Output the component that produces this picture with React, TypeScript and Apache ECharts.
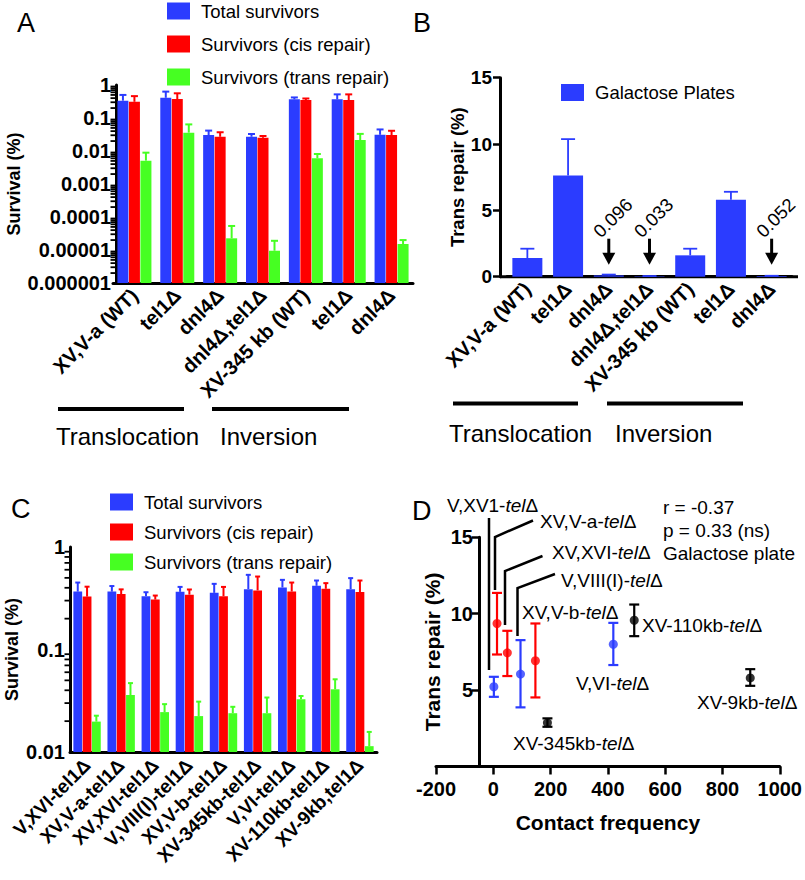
import React, { useEffect, useRef } from 'react';
import * as echarts from 'echarts';

const FONT = '"Liberation Sans", Arial, Helvetica, sans-serif';
const BLUE = '#2b3cff';
const RED = '#ff0000';
const GREEN = '#46ff22';
const BLACK = '#000000';

// ---------- Panel A ----------
const catsA = ['XV,V-a (WT)', 'tel1Δ', 'dnl4Δ', 'dnl4Δ,tel1Δ', 'XV-345 kb (WT)', 'tel1Δ', 'dnl4Δ'];
const totalA = [0.335, 0.41, 0.0305, 0.027, 0.368, 0.368, 0.031];
const totalAErr = [0.5, 0.63, 0.0415, 0.0327, 0.42, 0.52, 0.045];
const cisA = [0.31, 0.377, 0.027, 0.0254, 0.35, 0.35, 0.0305];
const cisAErr = [0.46, 0.56, 0.037, 0.0285, 0.39, 0.52, 0.041];
const transA = [0.0051, 0.036, 0.0000226, 0.0000095, 0.006, 0.0215, 0.0000152];
const transAErr = [0.0089, 0.064, 0.0000535, 0.000019, 0.0081, 0.033, 0.00002];

// ---------- Panel B ----------
const catsB = ['XV,V-a (WT)', 'tel1Δ', 'dnl4Δ', 'dnl4Δ,tel1Δ', 'XV-345 kb (WT)', 'tel1Δ', 'dnl4Δ'];
const transB = [1.41, 7.63, 0.096, 0.033, 1.61, 5.8, 0.052];
const transBErr = [2.11, 10.37, 0.16, 0.05, 2.11, 6.4, 0.07];
const annotB = [2, 3, 6];

// ---------- Panel C ----------
const catsC = ['V,XVI-tel1Δ', 'XV,V-a-tel1Δ', 'XV,XVI-tel1Δ', 'V,VIII(I)-tel1Δ', 'XV,V-b-tel1Δ', 'XV-345kb-tel1Δ', 'V,VI-tel1Δ', 'XV-110kb-tel1Δ', 'XV-9kb,tel1Δ'];
const totalC = [0.367, 0.367, 0.331, 0.365, 0.357, 0.388, 0.403, 0.418, 0.388];
const totalCErr = [0.45, 0.416, 0.362, 0.408, 0.437, 0.535, 0.478, 0.471, 0.497];
const cisC = [0.328, 0.348, 0.307, 0.343, 0.331, 0.377, 0.368, 0.391, 0.363];
const cisCErr = [0.41, 0.386, 0.336, 0.385, 0.408, 0.515, 0.45, 0.444, 0.471];
const transC = [0.0198, 0.0359, 0.0245, 0.0224, 0.0239, 0.0239, 0.0327, 0.0409, 0.0114];
const transCErr = [0.0226, 0.047, 0.0293, 0.031, 0.0276, 0.034, 0.0352, 0.0512, 0.0157];

// ---------- Panel D ----------
const dBlueX = [2, 95, 419];
const dBlueY = [5.22, 6.05, 8.0];
const dBlueLo = [4.56, 3.87, 6.64];
const dBlueHi = [5.87, 8.27, 9.4];
const dRedX = [13, 49, 147];
const dRedY = [9.36, 7.44, 6.92];
const dRedLo = [7.33, 5.92, 4.52];
const dRedHi = [11.36, 8.88, 9.36];
const dBlackX = [189, 492, 897];
const dBlackY = [2.86, 9.57, 5.8];
const dBlackLo = [2.6, 8.53, 5.28];
const dBlackHi = [3.15, 10.6, 6.37];

const legendNames = ['Total survivors', 'Survivors (cis repair)', 'Survivors (trans repair)'];
const minorMult = [2, 3, 4, 5, 6, 7, 8, 9];
const decadesA = [-6, -5, -4, -3, -2, -1];
const decadesC = [-2, -1];

const minorVals = (decs: number[]) => {
  const out: number[] = [];
  decs.forEach((d) => minorMult.forEach((m) => out.push(m * Math.pow(10, d))));
  return out;
};

const logFmt = (v: number) => (v >= 1 ? '1' : v.toFixed(Math.round(-Math.log10(v))));

function barErrSeries(name: string, color: string, xi: number, vals: number[], errs: number[], off: number, w: number, yMin: number, capW: number) {
  return {
    type: 'custom',
    name,
    xAxisIndex: xi,
    yAxisIndex: xi,
    itemStyle: { color },
    encode: { x: 0, y: [1, 2] },
    data: vals.map((v, i) => [i, v, errs[i]]),
    silent: true,
    renderItem: (params: any, api: any) => {
      const i = api.value(0);
      const v = api.value(1);
      const e = api.value(2);
      const top = api.coord([i, v]);
      const base = api.coord([i, yMin]);
      const et = api.coord([i, e]);
      const x = top[0] + off;
      return {
        type: 'group',
        children: [
          { type: 'rect', shape: { x: x - w / 2, y: top[1], width: w, height: base[1] - top[1] }, style: { fill: color } },
          { type: 'line', shape: { x1: x, y1: top[1], x2: x, y2: et[1] }, style: { stroke: color, lineWidth: 2 } },
          { type: 'line', shape: { x1: x - capW / 2, y1: et[1], x2: x + capW / 2, y2: et[1] }, style: { stroke: color, lineWidth: 2 } },
        ],
      };
    },
  };
}

function minorTickSeries(xi: number, vals: number[], shift: number) {
  return {
    type: 'custom',
    xAxisIndex: xi,
    yAxisIndex: xi,
    silent: true,
    encode: { x: 0, y: 1 },
    data: vals.map((v) => [0, v]),
    renderItem: (params: any, api: any) => {
      const y = api.coord([0, api.value(1)])[1];
      const x = params.coordSys.x + shift;
      return { type: 'line', shape: { x1: x - 5.5, y1: y, x2: x, y2: y }, style: { stroke: BLACK, lineWidth: 1.8 } };
    },
  };
}

function dErrSeries(color: string, xs: number[], lo: number[], hi: number[]) {
  return {
    type: 'custom',
    xAxisIndex: 3,
    yAxisIndex: 3,
    silent: true,
    encode: { x: 0, y: [1, 2] },
    data: xs.map((x, i) => [x, lo[i], hi[i]]),
    renderItem: (params: any, api: any) => {
      const pl = api.coord([api.value(0), api.value(1)]);
      const ph = api.coord([api.value(0), api.value(2)]);
      const s = { stroke: color, lineWidth: 2.2 };
      return {
        type: 'group',
        children: [
          { type: 'line', shape: { x1: pl[0], y1: pl[1], x2: ph[0], y2: ph[1] }, style: s },
          { type: 'line', shape: { x1: pl[0] - 5, y1: pl[1], x2: pl[0] + 5, y2: pl[1] }, style: s },
          { type: 'line', shape: { x1: ph[0] - 5, y1: ph[1], x2: ph[0] + 5, y2: ph[1] }, style: s },
        ],
      };
    },
  };
}

const axisLine = { show: true, onZero: false, lineStyle: { color: BLACK, width: 3 } };
const tickLabel = { color: BLACK, fontFamily: FONT, fontWeight: 'bold' as const, fontSize: 20 };

const legendBase = {
  orient: 'vertical' as const,
  itemWidth: 23,
  itemHeight: 17,
  icon: 'rect',
  selectedMode: false,
  padding: 0,
  textStyle: { fontFamily: FONT, fontSize: 18.5, color: BLACK, lineHeight: 17, padding: [0, 0, 0, 6] },
};

const richLabel = (pre: string, post = '') => ({
  text: `{n|${pre}}{i|tel}{n|Δ${post}}`,
  rich: {
    n: { fontSize: 19, fontFamily: FONT, fill: BLACK },
    i: { fontSize: 19, fontFamily: FONT, fontStyle: 'italic', fill: BLACK },
  },
});

const dLabels: [string, number, number][] = [
  ['V,XV1-', 447, 505],
  ['XV,V-a-', 540, 521],
  ['XV,XVI-', 552, 552],
  ['V,VIII(I)-', 561, 580],
  ['XV,V-b-', 522, 612],
  ['XV-110kb-', 642, 625],
  ['V,VI-', 576, 683],
  ['XV-9kb-', 697, 702],
  ['XV-345kb-', 513, 743],
];

const leaders: number[][][] = [
  [[489, 518], [489, 670]],
  [[495, 590], [495, 537], [533, 520.5]],
  [[505, 625], [505, 571], [542.5, 556]],
  [[517.5, 636], [517.5, 588], [555, 574]],
];

function buildOption(): any {
  const txt = (text: string, x: number, y: number, size: number, extra: any = {}) => ({
    type: 'text',
    x,
    y,
    silent: true,
    style: { text, fontSize: size, fontFamily: FONT, fill: BLACK, verticalAlign: 'middle', ...extra },
  });
  const bar = (x1: number, x2: number, y: number) => ({
    type: 'rect',
    silent: true,
    shape: { x: x1, y: y - 2, width: x2 - x1, height: 4 },
    style: { fill: BLACK },
  });

  const graphic: any[] = [
    txt('A', 17, 22.5, 27),
    txt('B', 413, 23, 27),
    txt('C', 11, 509, 27),
    txt('D', 412, 511, 27),
    bar(58, 184, 409),
    bar(212, 349, 409),
    txt('Translocation', 56, 436, 24),
    txt('Inversion', 220, 436, 24),
    bar(453, 578, 403.5),
    bar(607, 743, 403.5),
    txt('Translocation', 449, 433, 24),
    txt('Inversion', 615, 433, 24),
    { type: 'line', silent: true, shape: { x1: 500, y1: 276.7, x2: 798, y2: 276.7 }, style: { stroke: BLACK, lineWidth: 3 } },
    txt('r = -0.37', 663, 507, 19),
    txt('p = 0.33 (ns)', 663, 530, 19),
    txt('Galactose plate', 663, 553, 19),
  ];
  dLabels.forEach(([pre, x, y]) => {
    graphic.push({ type: 'text', x, y, silent: true, style: { ...richLabel(pre), verticalAlign: 'middle', fill: BLACK } });
  });
  leaders.forEach((pts) => {
    graphic.push({ type: 'polyline', silent: true, shape: { points: pts }, style: { stroke: BLACK, lineWidth: 2.5, fill: 'none' } });
  });

  return {
    animation: false,
    backgroundColor: '#ffffff',
    textStyle: { fontFamily: FONT },
    grid: [
      { left: 113, top: 85, width: 300, height: 198 },
      { left: 507, top: 77.7, width: 285, height: 199 },
      { left: 70, top: 547, width: 307, height: 205 },
      { left: 436, top: 537.3, width: 344, height: 229.2 },
    ],
    legend: [
      { ...legendBase, data: legendNames, left: 167, top: 1.5, itemGap: 14 },
      { ...legendBase, data: ['Galactose Plates'], left: 561, top: 83 },
      { ...legendBase, data: legendNames, left: 110, top: 492.5, itemGap: 11 },
    ],
    xAxis: [
      {
        gridIndex: 0, type: 'category', data: catsA,
        axisLine, axisTick: { alignWithLabel: true, length: 6, lineStyle: { color: BLACK, width: 2.5 } },
        axisLabel: { ...tickLabel, fontSize: 20, rotate: 45, interval: 0, margin: 9 },
      },
      {
        gridIndex: 1, type: 'category', data: catsB,
        axisLine, axisTick: { alignWithLabel: true, length: 7, lineStyle: { color: BLACK, width: 2.5 } },
        axisLabel: { ...tickLabel, fontSize: 20, rotate: 45, interval: 0, margin: 9 },
      },
      {
        gridIndex: 2, type: 'category', data: catsC,
        axisLine, axisTick: { alignWithLabel: true, length: 7, lineStyle: { color: BLACK, width: 2.5 } },
        axisLabel: { ...tickLabel, fontSize: 19, rotate: 45, interval: 0, margin: 10 },
      },
      {
        gridIndex: 3, type: 'value', min: -200, max: 1000, interval: 200,
        axisLine, splitLine: { show: false },
        axisTick: { length: 8, lineStyle: { color: BLACK, width: 2.5 } },
        axisLabel: { ...tickLabel, fontSize: 20, margin: 12, formatter: (v: number) => String(v) },
        name: 'Contact frequency', nameLocation: 'middle', nameGap: 45,
        nameTextStyle: { fontFamily: FONT, fontWeight: 'bold', fontSize: 21, color: BLACK },
      },
    ],
    yAxis: [
      {
        gridIndex: 0, type: 'log', logBase: 10, min: 0.000001, max: 1, splitNumber: 6, offset: -3,
        axisLine, splitLine: { show: false },
        axisTick: { length: 7, lineStyle: { color: BLACK, width: 2 } },
        axisLabel: { ...tickLabel, fontSize: 20, margin: 5, formatter: logFmt },
        name: 'Survival (%)', nameLocation: 'middle', nameGap: 93,
        nameTextStyle: { fontFamily: FONT, fontWeight: 'bold', fontSize: 18, color: BLACK },
      },
      {
        gridIndex: 1, type: 'value', min: 0, max: 15, interval: 5, offset: 7,
        axisLine, splitLine: { show: false },
        axisTick: { show: true, length: 7, lineStyle: { color: BLACK, width: 2.5 } },
        axisLabel: { ...tickLabel, fontSize: 19, margin: 8 },
        name: 'Trans repair (%)', nameLocation: 'middle', nameGap: 30,
        nameTextStyle: { fontFamily: FONT, fontWeight: 'bold', fontSize: 18.5, color: BLACK },
      },
      {
        gridIndex: 2, type: 'log', logBase: 10, min: 0.01, max: 1, splitNumber: 2,
        axisLine, splitLine: { show: false },
        axisTick: { length: 8, lineStyle: { color: BLACK, width: 2 } },
        axisLabel: { ...tickLabel, fontSize: 20, margin: 5, formatter: logFmt },
        name: 'Survival (%)', nameLocation: 'middle', nameGap: 49,
        nameTextStyle: { fontFamily: FONT, fontWeight: 'bold', fontSize: 18, color: BLACK },
      },
      {
        gridIndex: 3, type: 'value', min: 0, max: 15, interval: 5, offset: -43,
        axisLine, splitLine: { show: false },
        axisTick: { length: 7, lineStyle: { color: BLACK, width: 2.5 } },
        axisLabel: { ...tickLabel, fontSize: 20, margin: 6, showMinLabel: false },
        name: 'Trans repair (%)', nameLocation: 'middle', nameGap: 36,
        nameTextStyle: { fontFamily: FONT, fontWeight: 'bold', fontSize: 21, color: BLACK },
      },
    ],
    series: [
      // Panel A
      barErrSeries(legendNames[0], BLUE, 0, totalA, totalAErr, -11.5, 11, 0.000001, 7),
      barErrSeries(legendNames[1], RED, 0, cisA, cisAErr, 0, 11, 0.000001, 7),
      barErrSeries(legendNames[2], GREEN, 0, transA, transAErr, 11.5, 11, 0.000001, 7),
      minorTickSeries(0, minorVals(decadesA), 3),
      // Panel B
      {
        type: 'bar', name: 'Galactose Plates', xAxisIndex: 1, yAxisIndex: 1,
        data: transB, barWidth: 30, itemStyle: { color: BLUE }, silent: true,
      },
      {
        type: 'custom', xAxisIndex: 1, yAxisIndex: 1, silent: true,
        encode: { x: 0, y: [1, 2] },
        data: transB.map((v, i) => [i, v, transBErr[i]]),
        renderItem: (params: any, api: any) => {
          const t = api.coord([api.value(0), api.value(1)]);
          const e = api.coord([api.value(0), api.value(2)]);
          const s = { stroke: BLUE, lineWidth: 1.8 };
          return {
            type: 'group',
            children: [
              { type: 'line', shape: { x1: t[0], y1: t[1], x2: e[0], y2: e[1] }, style: s },
              { type: 'line', shape: { x1: e[0] - 7, y1: e[1], x2: e[0] + 7, y2: e[1] }, style: s },
            ],
          };
        },
      },
      {
        type: 'custom', xAxisIndex: 1, yAxisIndex: 1, silent: true,
        encode: { x: 0, y: 1 },
        data: annotB.map((i) => [i, transB[i]]),
        renderItem: (params: any, api: any) => {
          const v = api.value(1);
          const b = api.coord([api.value(0), 0]);
          const x = b[0];
          return {
            type: 'group',
            children: [
              { type: 'line', shape: { x1: x, y1: b[1] - 38, x2: x, y2: b[1] - 22 }, style: { stroke: BLACK, lineWidth: 3 } },
              { type: 'polygon', shape: { points: [[x - 6.5, b[1] - 24], [x + 6.5, b[1] - 24], [x, b[1] - 12]] }, style: { fill: BLACK } },
              {
                type: 'text', x: x + 4, y: b[1] - 59, rotation: Math.PI / 4,
                style: { text: String(v), fontSize: 18.5, fontFamily: FONT, fill: BLACK, align: 'center', verticalAlign: 'middle' },
              },
            ],
          };
        },
      },
      // Panel C
      barErrSeries(legendNames[0], BLUE, 2, totalC, totalCErr, -9.3, 8.8, 0.01, 5),
      barErrSeries(legendNames[1], RED, 2, cisC, cisCErr, 0, 8.8, 0.01, 5),
      barErrSeries(legendNames[2], GREEN, 2, transC, transCErr, 9.3, 8.8, 0.01, 5),
      minorTickSeries(2, minorVals(decadesC), 0),
      // Panel D
      dErrSeries(BLUE, dBlueX, dBlueLo, dBlueHi),
      dErrSeries(RED, dRedX, dRedLo, dRedHi),
      dErrSeries(BLACK, dBlackX, dBlackLo, dBlackHi),
      { type: 'scatter', xAxisIndex: 3, yAxisIndex: 3, symbolSize: 9, itemStyle: { color: BLUE }, silent: true, data: dBlueX.map((x, i) => [x, dBlueY[i]]) },
      { type: 'scatter', xAxisIndex: 3, yAxisIndex: 3, symbolSize: 9, itemStyle: { color: RED }, silent: true, data: dRedX.map((x, i) => [x, dRedY[i]]) },
      { type: 'scatter', xAxisIndex: 3, yAxisIndex: 3, symbolSize: 9, itemStyle: { color: BLACK }, silent: true, data: dBlackX.map((x, i) => [x, dBlackY[i]]) },
    ],
    graphic,
  };
}

export default function App() {
  const ref = useRef<HTMLDivElement>(null);
  useEffect(() => {
    document.body.style.margin = '0';
    const chart = echarts.init(ref.current as HTMLDivElement, null, { renderer: 'svg' });
    chart.setOption(buildOption());
    return () => chart.dispose();
  }, []);
  return <div ref={ref} style={{ width: 805, height: 880 }} />;
}
